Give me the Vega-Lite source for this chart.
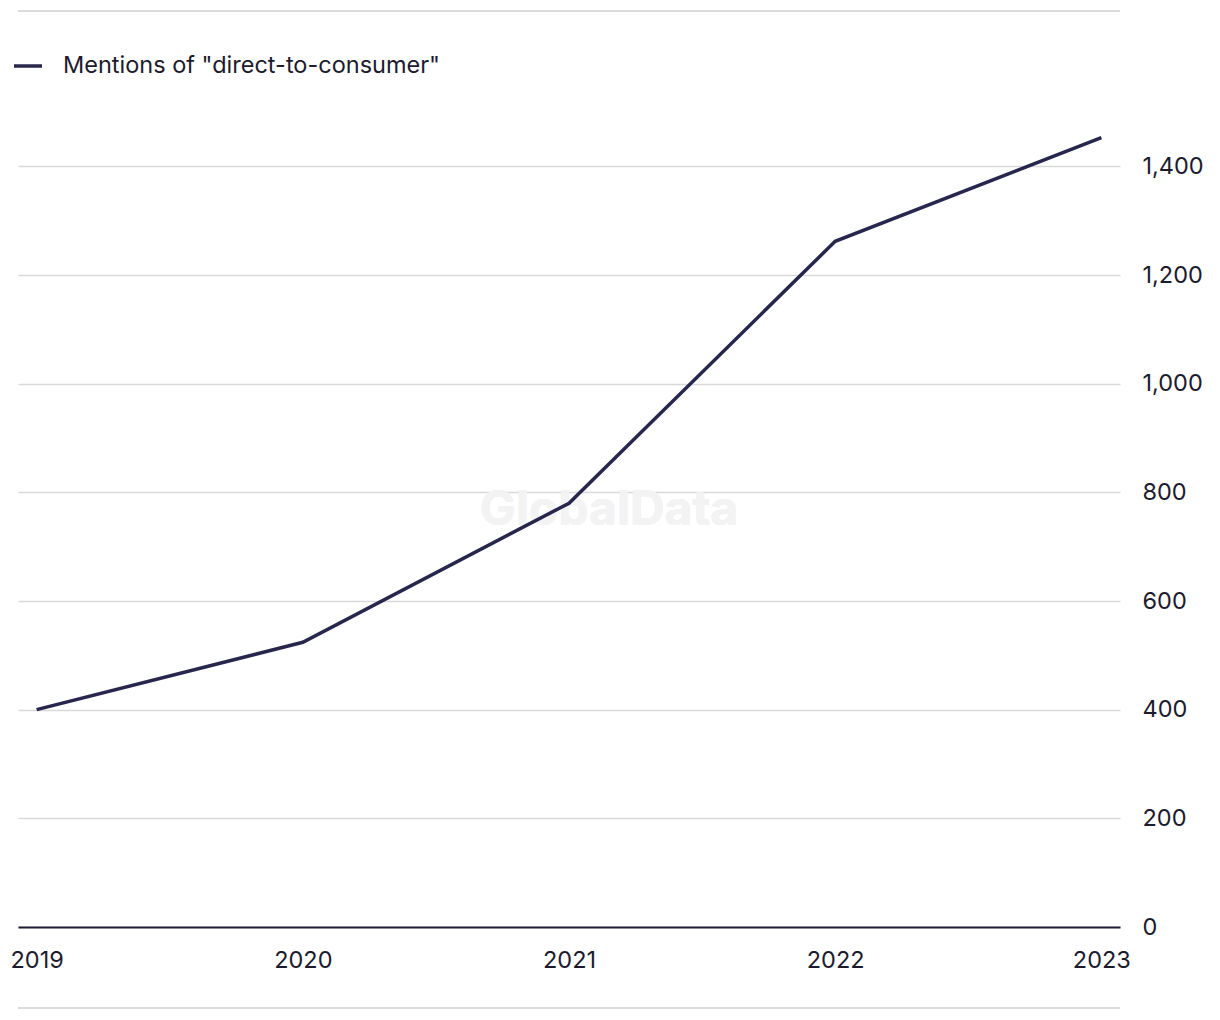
{
  "$schema": "https://vega.github.io/schema/vega-lite/v6.json",
  "width": 1102,
  "height": 815,
  "autosize": {"type": "none"},
  "padding": {"left": 18, "top": 112, "right": 100, "bottom": 93},
  "background": "white",
  "config": {
    "font": "Inter",
    "view": {"stroke": null},
    "axis": {"labelFont": "Inter", "labelFontSize": 23.5, "labelColor": "#1c1b2e", "ticks": false}
  },
  "data": {
    "values": [
      {"year": "2019", "mentions": 400, "series": "Mentions of \"direct-to-consumer\""},
      {"year": "2020", "mentions": 524, "series": "Mentions of \"direct-to-consumer\""},
      {"year": "2021", "mentions": 780, "series": "Mentions of \"direct-to-consumer\""},
      {"year": "2022", "mentions": 1262, "series": "Mentions of \"direct-to-consumer\""},
      {"year": "2023", "mentions": 1453, "series": "Mentions of \"direct-to-consumer\""}
    ]
  },
  "layer": [
    {
      "mark": {"type": "rule", "color": "#dcdcdc", "strokeWidth": 2, "clip": false},
      "encoding": {
        "y": {"datum": 1686, "type": "quantitative"}
      }
    },
    {
      "mark": {"type": "rule", "color": "#dcdcdc", "strokeWidth": 2, "clip": false},
      "encoding": {
        "y": {"datum": -149, "type": "quantitative"}
      }
    },
    {
      "mark": {"type": "text", "fontSize": 48, "fontWeight": "bold", "color": "#f3f3f4", "dx": 40},
      "encoding": {
        "x": {"datum": "2021", "type": "ordinal"},
        "y": {"datum": 765, "type": "quantitative"},
        "text": {"value": "GlobalData"}
      }
    },
    {
      "mark": {"type": "line", "strokeWidth": 3.5, "clip": false},
      "encoding": {
        "x": {
          "field": "year", "type": "ordinal",
          "scale": {"type": "point", "padding": 0.07},
          "axis": {
            "title": null, "labelAngle": 0, "labelAlign": "center", "labelPadding": 33,
            "labelBaseline": "middle",
            "labelFlush": false, "labelBound": false,
            "domain": true, "domainColor": "#1f1d33", "domainWidth": 2,
            "grid": false
          }
        },
        "y": {
          "field": "mentions", "type": "quantitative",
          "scale": {"domain": [0, 1500], "nice": false},
          "axis": {
            "title": null, "orient": "right", "values": [0, 200, 400, 600, 800, 1000, 1200, 1400],
            "format": ",d", "domain": false, "grid": true, "gridColor": "#d9d9d9", "gridWidth": 1.5,
            "labelPadding": 22, "labelAlign": "left"
          }
        },
        "color": {
          "field": "series", "type": "nominal",
          "scale": {"range": ["#27264d"]},
          "legend": {
            "title": null, "orient": "none", "legendX": -6, "legendY": -62,
            "symbolType": "stroke", "symbolSize": 784, "symbolStrokeWidth": 3.5,
            "labelFontSize": 23.5, "labelFont": "Inter", "labelColor": "#1c1b2e", "labelOffset": 19,
            "labelLimit": 0
          }
        }
      }
    }
  ]
}
